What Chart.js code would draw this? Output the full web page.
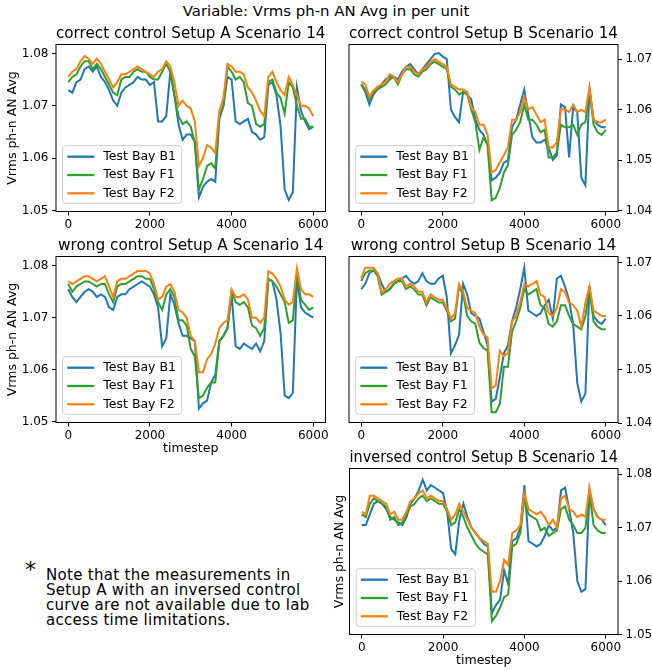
<!DOCTYPE html>
<html>
<head>
<meta charset="utf-8">
<script src="https://cdn.jsdelivr.net/npm/chart.js@4.4.0/dist/chart.umd.min.js"></script>
<style>
  body { margin: 0; background: #fff; width: 652px; height: 671px; position: relative; overflow: hidden; font-family: 'DejaVu Sans', sans-serif; color: #000; }
  canvas { position: absolute; }
  #suptitle { position: absolute; left: 0; top: 3px; width: 652px; text-align: center; font-size: 14.9px; line-height: 17px; }
  #star { position: absolute; left: 25px; top: 557px; font-size: 22px; line-height: 26px; }
  #note { position: absolute; left: 46px; top: 567.5px; font-size: 15px; line-height: 15.3px; letter-spacing: 0.3px; white-space: nowrap; }
</style>
</head>
<body>
<div id="suptitle">Variable: Vrms ph-n AN Avg in per unit</div>
<canvas id="p1" width="334" height="213" style="left:0px;top:25px"></canvas>
<canvas id="p2" width="312" height="213" style="left:340px;top:25px"></canvas>
<canvas id="p3" width="334" height="222" style="left:0px;top:237px"></canvas>
<canvas id="p4" width="312" height="212" style="left:340px;top:237px"></canvas>
<canvas id="p5" width="332" height="222" style="left:320px;top:449px"></canvas>
<div id="star">*</div>
<div id="note">Note that the measurements in<br>Setup A with an inversed control<br>curve are not available due to lab<br>access time limitations.</div>

<script>
// timesteps (every 100th sample)
const steps = [0, 100, 200, 300, 400, 500, 600, 700, 800, 900,
  1000, 1100, 1200, 1300, 1400, 1500, 1600, 1700, 1800, 1900,
  2000, 2100, 2200, 2300, 2400, 2500, 2600, 2700, 2800, 2900,
  3000, 3100, 3200, 3300, 3400, 3500, 3600, 3700, 3800, 3900,
  4000, 4100, 4200, 4300, 4400, 4500, 4600, 4700, 4800, 4900,
  5000, 5100, 5200, 5300, 5400, 5500, 5600, 5700, 5800, 5900,
  6000];
const xTicks = [0, 2000, 4000, 6000];
const yTicksA = [1.05, 1.06, 1.07, 1.08];
const yTicksB = [1.04, 1.05, 1.06, 1.07];
const bays = ['Test Bay B1', 'Test Bay F1', 'Test Bay F2'];

// correct control, Setup A
const correctA_B1 = [1.0730, 1.0725, 1.0745, 1.0750, 1.0770, 1.0775, 1.0765, 1.0775, 1.0755, 1.0745,
  1.0730, 1.0710, 1.0700, 1.0725, 1.0735, 1.0740, 1.0745, 1.0755, 1.0750, 1.0750,
  1.0740, 1.0745, 1.0670, 1.0670, 1.0680, 1.0765, 1.0720, 1.0665, 1.0635, 1.0645,
  1.0645, 1.0630, 1.0525, 1.0545, 1.0555, 1.0560, 1.0555, 1.0675, 1.0700, 1.0755,
  1.0750, 1.0670, 1.0665, 1.0670, 1.0675, 1.0650, 1.0645, 1.0635, 1.0640, 1.0740,
  1.0745, 1.0720, 1.0660, 1.0540, 1.0520, 1.0535, 1.0735, 1.0690, 1.0670, 1.0655,
  1.0660];
const correctA_F1 = [1.0745, 1.0755, 1.0760, 1.0775, 1.0785, 1.0785, 1.0770, 1.0780, 1.0770, 1.0755,
  1.0740, 1.0725, 1.0720, 1.0750, 1.0755, 1.0755, 1.0765, 1.0770, 1.0765, 1.0765,
  1.0755, 1.0750, 1.0750, 1.0765, 1.0780, 1.0765, 1.0720, 1.0680, 1.0665, 1.0670,
  1.0660, 1.0630, 1.0540, 1.0560, 1.0585, 1.0590, 1.0580, 1.0680, 1.0700, 1.0775,
  1.0765, 1.0750, 1.0755, 1.0745, 1.0705, 1.0700, 1.0665, 1.0660, 1.0665, 1.0745,
  1.0750, 1.0725, 1.0715, 1.0685, 1.0745, 1.0735, 1.0700, 1.0675, 1.0675, 1.0660,
  1.0660];
const correctA_F2 = [1.0755, 1.0765, 1.0770, 1.0785, 1.0795, 1.0790, 1.0780, 1.0790, 1.0780, 1.0765,
  1.0750, 1.0735, 1.0745, 1.0760, 1.0760, 1.0765, 1.0770, 1.0775, 1.0770, 1.0765,
  1.0760, 1.0755, 1.0765, 1.0770, 1.0785, 1.0775, 1.0745, 1.0700, 1.0710, 1.0700,
  1.0695, 1.0670, 1.0585, 1.0600, 1.0625, 1.0620, 1.0610, 1.0690, 1.0715, 1.0780,
  1.0775, 1.0765, 1.0765, 1.0760, 1.0735, 1.0725, 1.0710, 1.0690, 1.0680, 1.0755,
  1.0765, 1.0745, 1.0730, 1.0720, 1.0755, 1.0740, 1.0720, 1.0700, 1.0700, 1.0695,
  1.0680];

// correct control, Setup B
const correctB_B1 = [1.0650, 1.0635, 1.0610, 1.0630, 1.0640, 1.0650, 1.0660, 1.0665, 1.0665, 1.0660,
  1.0675, 1.0685, 1.0690, 1.0680, 1.0670, 1.0680, 1.0690, 1.0700, 1.0710, 1.0712,
  1.0705, 1.0700, 1.0600, 1.0585, 1.0575, 1.0635, 1.0630, 1.0620, 1.0580, 1.0560,
  1.0550, 1.0530, 1.0460, 1.0465, 1.0475, 1.0495, 1.0500, 1.0565, 1.0580, 1.0610,
  1.0640, 1.0590, 1.0545, 1.0535, 1.0535, 1.0540, 1.0525, 1.0500, 1.0510, 1.0610,
  1.0605, 1.0505, 1.0605, 1.0595, 1.0465, 1.0450, 1.0640, 1.0580, 1.0570, 1.0565,
  1.0565];
const correctB_F1 = [1.0650, 1.0640, 1.0620, 1.0635, 1.0640, 1.0645, 1.0650, 1.0660, 1.0665, 1.0650,
  1.0670, 1.0680, 1.0680, 1.0670, 1.0665, 1.0675, 1.0680, 1.0690, 1.0695, 1.0690,
  1.0685, 1.0680, 1.0645, 1.0640, 1.0630, 1.0635, 1.0630, 1.0600, 1.0575, 1.0520,
  1.0545, 1.0530, 1.0420, 1.0425, 1.0445, 1.0475, 1.0490, 1.0550, 1.0560, 1.0575,
  1.0610, 1.0580, 1.0580, 1.0570, 1.0555, 1.0560, 1.0505, 1.0505, 1.0515, 1.0570,
  1.0565, 1.0565, 1.0570, 1.0550, 1.0570, 1.0575, 1.0640, 1.0570, 1.0555, 1.0550,
  1.0560];
const correctB_F2 = [1.0655, 1.0650, 1.0625, 1.0638, 1.0645, 1.0650, 1.0655, 1.0670, 1.0665, 1.0655,
  1.0670, 1.0685, 1.0685, 1.0675, 1.0670, 1.0680, 1.0685, 1.0695, 1.0700, 1.0695,
  1.0690, 1.0685, 1.0650, 1.0645, 1.0640, 1.0640, 1.0635, 1.0605, 1.0595, 1.0570,
  1.0570, 1.0550, 1.0475, 1.0480, 1.0495, 1.0510, 1.0525, 1.0580, 1.0580, 1.0595,
  1.0625, 1.0600, 1.0605, 1.0590, 1.0575, 1.0580, 1.0525, 1.0525, 1.0535, 1.0600,
  1.0600, 1.0595, 1.0610, 1.0595, 1.0600, 1.0595, 1.0645, 1.0580, 1.0575, 1.0575,
  1.0580];

// wrong control, Setup A
const wrongA_B1 = [1.0755, 1.0740, 1.0730, 1.0740, 1.0750, 1.0755, 1.0750, 1.0740, 1.0745, 1.0740,
  1.0720, 1.0715, 1.0740, 1.0745, 1.0745, 1.0755, 1.0760, 1.0765, 1.0770, 1.0765,
  1.0760, 1.0745, 1.0720, 1.0645, 1.0660, 1.0745, 1.0725, 1.0690, 1.0665, 1.0665,
  1.0660, 1.0655, 1.0525, 1.0535, 1.0540, 1.0575, 1.0590, 1.0655, 1.0665, 1.0680,
  1.0745, 1.0645, 1.0640, 1.0650, 1.0645, 1.0640, 1.0650, 1.0635, 1.0655, 1.0775,
  1.0770, 1.0735, 1.0670, 1.0550, 1.0545, 1.0555, 1.0775, 1.0720, 1.0710, 1.0705,
  1.0700];
const wrongA_F1 = [1.0765, 1.0750, 1.0760, 1.0765, 1.0770, 1.0770, 1.0765, 1.0760, 1.0765, 1.0765,
  1.0745, 1.0730, 1.0760, 1.0765, 1.0765, 1.0770, 1.0775, 1.0780, 1.0780, 1.0775,
  1.0775, 1.0755, 1.0730, 1.0715, 1.0745, 1.0755, 1.0740, 1.0695, 1.0695, 1.0685,
  1.0640, 1.0625, 1.0545, 1.0550, 1.0565, 1.0575, 1.0575, 1.0655, 1.0665, 1.0680,
  1.0750, 1.0730, 1.0725, 1.0730, 1.0720, 1.0685, 1.0680, 1.0665, 1.0680, 1.0775,
  1.0770, 1.0760, 1.0745, 1.0730, 1.0690, 1.0695, 1.0785, 1.0735, 1.0725, 1.0715,
  1.0720];
const wrongA_F2 = [1.0770, 1.0765, 1.0770, 1.0775, 1.0780, 1.0780, 1.0775, 1.0770, 1.0775, 1.0780,
  1.0760, 1.0740, 1.0770, 1.0775, 1.0775, 1.0780, 1.0785, 1.0790, 1.0790, 1.0790,
  1.0785, 1.0765, 1.0735, 1.0740, 1.0760, 1.0765, 1.0750, 1.0715, 1.0710, 1.0700,
  1.0665, 1.0655, 1.0595, 1.0595, 1.0620, 1.0630, 1.0650, 1.0680, 1.0690, 1.0695,
  1.0755, 1.0740, 1.0740, 1.0745, 1.0735, 1.0700, 1.0700, 1.0690, 1.0700, 1.0790,
  1.0785, 1.0775, 1.0760, 1.0735, 1.0725, 1.0730, 1.0795, 1.0755, 1.0745, 1.0745,
  1.0740];

// wrong control, Setup B
const wrongB_B1 = [1.0650, 1.0660, 1.0680, 1.0685, 1.0680, 1.0660, 1.0645, 1.0650, 1.0660, 1.0665,
  1.0670, 1.0675, 1.0665, 1.0660, 1.0665, 1.0680, 1.0665, 1.0660, 1.0660, 1.0670,
  1.0675, 1.0635, 1.0530, 1.0545, 1.0565, 1.0660, 1.0640, 1.0605, 1.0600, 1.0595,
  1.0570, 1.0545, 1.0440, 1.0445, 1.0485, 1.0530, 1.0545, 1.0590, 1.0615, 1.0650,
  1.0690, 1.0610, 1.0605, 1.0600, 1.0605, 1.0620, 1.0630, 1.0595, 1.0670, 1.0675,
  1.0655, 1.0630, 1.0585, 1.0475, 1.0440, 1.0455, 1.0655, 1.0600, 1.0590, 1.0585,
  1.0595];
const wrongB_F1 = [1.0665, 1.0680, 1.0685, 1.0685, 1.0675, 1.0640, 1.0645, 1.0650, 1.0660, 1.0665,
  1.0665, 1.0650, 1.0655, 1.0650, 1.0640, 1.0640, 1.0620, 1.0635, 1.0630, 1.0625,
  1.0625, 1.0610, 1.0590, 1.0595, 1.0655, 1.0640, 1.0600, 1.0590, 1.0585, 1.0550,
  1.0540, 1.0535, 1.0420, 1.0420, 1.0435, 1.0505, 1.0505, 1.0570, 1.0590, 1.0615,
  1.0650, 1.0640, 1.0645, 1.0650, 1.0620, 1.0615, 1.0585, 1.0580, 1.0590, 1.0620,
  1.0620, 1.0600, 1.0585, 1.0580, 1.0575, 1.0600, 1.0650, 1.0590, 1.0580, 1.0575,
  1.0575];
const wrongB_F2 = [1.0670, 1.0690, 1.0690, 1.0690, 1.0680, 1.0645, 1.0650, 1.0660, 1.0665, 1.0670,
  1.0670, 1.0655, 1.0660, 1.0655, 1.0645, 1.0645, 1.0625, 1.0640, 1.0635, 1.0630,
  1.0630, 1.0615, 1.0595, 1.0605, 1.0660, 1.0645, 1.0615, 1.0610, 1.0605, 1.0580,
  1.0565, 1.0560, 1.0465, 1.0470, 1.0535, 1.0525, 1.0530, 1.0590, 1.0600, 1.0625,
  1.0660, 1.0655, 1.0660, 1.0665, 1.0640, 1.0635, 1.0605, 1.0600, 1.0615, 1.0650,
  1.0645, 1.0625, 1.0620, 1.0610, 1.0580, 1.0625, 1.0655, 1.0610, 1.0605, 1.0600,
  1.0600];

// inversed control, Setup B
const inversedB_B1 = [1.0705, 1.0705, 1.0725, 1.0745, 1.0750, 1.0745, 1.0735, 1.0720, 1.0715, 1.0710,
  1.0705, 1.0720, 1.0745, 1.0755, 1.0770, 1.0790, 1.0770, 1.0780, 1.0775, 1.0770,
  1.0765, 1.0730, 1.0660, 1.0650, 1.0715, 1.0745, 1.0720, 1.0700, 1.0690, 1.0680,
  1.0670, 1.0665, 1.0540, 1.0555, 1.0565, 1.0620, 1.0595, 1.0675, 1.0680, 1.0700,
  1.0780, 1.0675, 1.0670, 1.0665, 1.0670, 1.0685, 1.0705, 1.0695, 1.0700, 1.0770,
  1.0775, 1.0735, 1.0690, 1.0600, 1.0580, 1.0585, 1.0770, 1.0735, 1.0720, 1.0715,
  1.0705];
const inversedB_F1 = [1.0725, 1.0720, 1.0745, 1.0755, 1.0750, 1.0745, 1.0740, 1.0715, 1.0720, 1.0705,
  1.0710, 1.0725, 1.0740, 1.0745, 1.0755, 1.0760, 1.0750, 1.0755, 1.0750, 1.0745,
  1.0745, 1.0730, 1.0705, 1.0710, 1.0735, 1.0720, 1.0700, 1.0685, 1.0670, 1.0660,
  1.0655, 1.0650, 1.0525, 1.0535, 1.0550, 1.0570, 1.0575, 1.0665, 1.0670, 1.0690,
  1.0755, 1.0725, 1.0720, 1.0715, 1.0695, 1.0700, 1.0685, 1.0690, 1.0695, 1.0735,
  1.0740, 1.0715, 1.0705, 1.0690, 1.0690, 1.0700, 1.0765, 1.0705, 1.0695, 1.0690,
  1.0690];
const inversedB_F2 = [1.0730, 1.0725, 1.0760, 1.0760, 1.0755, 1.0750, 1.0745, 1.0725, 1.0730, 1.0715,
  1.0715, 1.0730, 1.0750, 1.0755, 1.0765, 1.0770, 1.0755, 1.0760, 1.0755, 1.0750,
  1.0750, 1.0735, 1.0715, 1.0725, 1.0745, 1.0730, 1.0715, 1.0700, 1.0690, 1.0680,
  1.0675, 1.0670, 1.0580, 1.0580, 1.0600, 1.0640, 1.0630, 1.0690, 1.0695, 1.0705,
  1.0765, 1.0735, 1.0730, 1.0725, 1.0730, 1.0720, 1.0705, 1.0715, 1.0700, 1.0755,
  1.0760, 1.0735, 1.0730, 1.0720, 1.0725, 1.0720, 1.0775, 1.0735, 1.0720, 1.0715,
  1.0715];

const yLabel = 'Vrms ph-n AN Avg';
const colors = ['#1f77b4', '#2ca02c', '#ff7f0e'];

Chart.defaults.font.family = "'DejaVu Sans', sans-serif";
Chart.defaults.color = '#000';
Chart.defaults.animation = false;

// black box round the plot area, like matplotlib spines
const frame = {
  id: 'frame',
  afterDatasetsDraw(chart) {
    const { ctx, chartArea: a } = chart;
    ctx.save();
    ctx.strokeStyle = '#000';
    ctx.lineWidth = 1;
    ctx.strokeRect(a.left, a.top, a.right - a.left, a.bottom - a.top);
    ctx.restore();
  }
};

// legend box in the lower left corner of the plot area
const innerLegend = {
  id: 'innerLegend',
  afterDatasetsDraw(chart) {
    const { ctx, chartArea: a } = chart;
    const w = 119, h = 57.6;
    const x = a.left + 6.7, y = a.bottom - 8.2 - h;
    ctx.save();
    ctx.beginPath();
    ctx.roundRect(x, y, w, h, 3);
    ctx.fillStyle = 'rgba(255,255,255,0.8)';
    ctx.fill();
    ctx.strokeStyle = '#cccccc';
    ctx.lineWidth = 1;
    ctx.stroke();
    ctx.font = "12.5px 'DejaVu Sans'";
    ctx.textBaseline = 'middle';
    chart.data.datasets.forEach((ds, i) => {
      const ry = y + 11 + i * 18.3;
      ctx.strokeStyle = ds.borderColor;
      ctx.lineWidth = 2.3;
      ctx.beginPath();
      ctx.moveTo(x + 4.6, ry);
      ctx.lineTo(x + 31.6, ry);
      ctx.stroke();
      ctx.fillStyle = '#000';
      ctx.fillText(ds.label, x + 40.6, ry);
    });
    ctx.restore();
  }
};

function makePanel(p) {
  const datasets = p.series.map((vals, i) => ({
    label: bays[i],
    data: steps.map((t, k) => ({ x: t, y: vals[k] })),
    borderColor: colors[i],
    borderWidth: 2,
    pointRadius: 0,
    tension: 0,
    order: 3 - i
  }));

  const scales = {
    x: {
      type: 'linear', min: -300, max: 6300,
      afterBuildTicks: s => { s.ticks = xTicks.map(v => ({ value: v })); },
      afterFit: s => { s.height = p.xHeight; },
      ticks: { font: { size: 12 }, padding: 2, maxRotation: 0, callback: v => String(v) },
      grid: { drawOnChartArea: false, tickLength: 4, color: '#000' },
      border: { display: false },
      title: { display: p.timestep, text: 'timestep', font: { size: 12.5 }, padding: { top: 0, bottom: 2.5 } }
    },
    y: {
      type: 'linear', position: p.side, min: p.yRange[0], max: p.yRange[1],
      afterBuildTicks: s => { s.ticks = p.yTicks.map(v => ({ value: v })); },
      afterFit: s => { s.width = p.side === 'left' ? p.leftWidth : p.rightWidth; },
      ticks: { font: { size: 12 }, padding: 3.5, callback: v => v.toFixed(2) },
      grid: { drawOnChartArea: false, tickLength: 4, color: '#000' },
      border: { display: false },
      title: { display: p.side === 'left', text: yLabel, font: { size: 12.5 }, padding: { top: 5, bottom: 0 } }
    }
  };

  // ticks on the right but the axis label still on the left
  if (p.side === 'right' && p.labelLeft) {
    scales.yl = {
      type: 'linear', position: 'left', min: p.yRange[0], max: p.yRange[1],
      afterFit: s => { s.width = p.leftWidth; },
      ticks: { display: false },
      grid: { display: false },
      border: { display: false },
      title: { display: true, text: yLabel, font: { size: 12.5 }, padding: { top: 12.5, bottom: 0 } }
    };
  }

  new Chart(document.getElementById(p.id), {
    type: 'line',
    data: { datasets: datasets },
    options: {
      responsive: false,
      layout: { padding: p.padding },
      plugins: {
        legend: { display: false },
        tooltip: { enabled: false },
        title: {
          display: true, text: p.title, fullSize: false,
          font: { size: 15.3, weight: 'normal' }, color: '#000',
          padding: { top: 0, bottom: 1.14 }
        }
      },
      scales: scales
    },
    plugins: [frame, innerLegend]
  });
}

makePanel({ id: 'p1', title: 'correct control Setup A Scenario 14',
  series: [correctA_B1, correctA_F1, correctA_F2], yTicks: yTicksA, yRange: [1.0498, 1.0817],
  side: 'left', leftWidth: 56, xHeight: 26.5, timestep: false, padding: { left: 0, right: 8.5, top: 0, bottom: 0 } });

makePanel({ id: 'p2', title: 'correct control Setup B Scenario 14',
  series: [correctB_B1, correctB_F1, correctB_F2], yTicks: yTicksB, yRange: [1.0398, 1.0729],
  side: 'right', rightWidth: 34, xHeight: 26.5, timestep: false, padding: { left: 9, right: 0, top: 0, bottom: 0 } });

makePanel({ id: 'p3', title: 'wrong control Setup A Scenario 14',
  series: [wrongA_B1, wrongA_F1, wrongA_F2], yTicks: yTicksA, yRange: [1.0498, 1.0818],
  side: 'left', leftWidth: 56, xHeight: 36.5, timestep: true, padding: { left: 0, right: 8.5, top: 0, bottom: 0 } });

makePanel({ id: 'p4', title: 'wrong control Setup B Scenario 14',
  series: [wrongB_B1, wrongB_F1, wrongB_F2], yTicks: yTicksB, yRange: [1.0401, 1.0711],
  side: 'right', rightWidth: 34, xHeight: 26.5, timestep: false, padding: { left: 9, right: 0, top: 0, bottom: 0 } });

makePanel({ id: 'p5', title: 'inversed control Setup B Scenario 14',
  series: [inversedB_B1, inversedB_F1, inversedB_F2], yTicks: yTicksA, yRange: [1.0500, 1.0811],
  side: 'right', labelLeft: true, leftWidth: 29.5, rightWidth: 34, xHeight: 36.5, timestep: true,
  padding: { left: 0, right: 0, top: 0, bottom: 0 } });
</script>
</body>
</html>
